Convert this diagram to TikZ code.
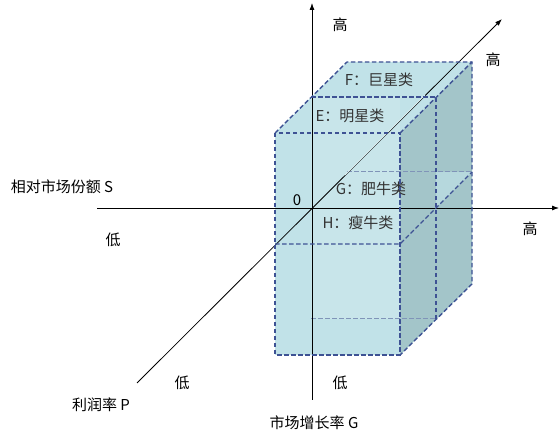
\documentclass[tikz,border=0pt]{standalone}
\usepackage{fontspec}
\setmainfont{Noto Sans CJK SC}
\usetikzlibrary{arrows.meta}
\definecolor{boxfill}{RGB}{193,226,232}
\definecolor{sidefill}{RGB}{163,197,201}
\definecolor{planefill}{RGB}{182,216,221}
\definecolor{edgeblue}{RGB}{62,82,148}
\definecolor{hiddenblue}{RGB}{128,148,184}
\definecolor{innerline}{RGB}{214,232,235}
\tikzset{
  axis/.style={line width=0.8pt, -{Latex[length=7pt,width=5pt]}},
  boxedge/.style={edgeblue, line width=1.4pt, dash pattern=on 4.5pt off 2.5pt},
  hiddenedge/.style={hiddenblue, line width=1pt, dash pattern=on 4.5pt off 2.5pt},
  lbl/.style={font=\fontsize{15}{17}\selectfont, inner sep=0pt},
  boxlbl/.style={lbl, text=black!80},
}
\begin{document}
\begin{tikzpicture}[x=1pt,y=-1pt]
\useasboundingbox (0,0) rectangle (560,435);

% axis end points
\coordinate (O) at (312,208);
\coordinate (Slow) at (97,208);
\coordinate (Shigh) at (559,208);
\coordinate (Glow) at (312,400);
\coordinate (Ghigh) at (312,3);
\coordinate (Plow) at (137,383);
\coordinate (Phigh) at (502,19);

% box faces
\fill[boxfill] (275,133) -- (347,62) -- (472,62) -- (472,284) -- (400,355) -- (275,355) -- cycle;
\fill[white, opacity=0.12] (311,97) rectangle (400,319);
\fill[sidefill] (400,133) -- (472,62) -- (472,284) -- (400,355) -- cycle;
\fill[planefill] (436,172) -- (472,172) -- (436,208) -- cycle;

% hidden edges
\draw[hiddenedge] (311,319) -- (436,319);
\draw[hiddenedge] (347,172) -- (472,172);

% axes
\draw[axis] (Slow) -- (Shigh);
\draw[axis] (Glow) -- (Ghigh);
\draw[axis] (Plow) -- (Phigh);
\draw[innerline, line width=0.8pt] (345,175) -- (425,95);

% visible edges
\draw[boxedge] (275,133) rectangle (400,355);
\draw[boxedge] (275,244) -- (400,244) -- (472,172);
\draw[boxedge] (275,133) -- (347,62) -- (472,62) -- (472,284) -- (400,355);
\draw[boxedge] (400,133) -- (472,62);
\draw[boxedge] (311,97) -- (436,97) -- (436,319);

% axis labels
\node[lbl] (Ghighlbl) at (340,25) {高};
\node[lbl] (Phighlbl) at (493,60) {高};
\node[lbl] (Shighlbl) at (530,229) {高};
\node[lbl] (Sname) at (62,187) {相对市场份额 S};
\node[lbl] (Slowlbl) at (113,240) {低};
\node[lbl] (Olbl) at (297,200) {0};
\node[lbl] (Plowlbl) at (182,383) {低};
\node[lbl] (Glowlbl) at (340,383) {低};
\node[lbl] (Pname) at (101,405) {利润率 P};
\node[lbl] (Gname) at (314,423) {市场增长率 G};

% quadrant labels
\node[boxlbl] (Fzone) at (379,80) {F：巨星类};
\node[boxlbl] (Ezone) at (350,116) {E：明星类};
\node[boxlbl] (Gzone) at (371,189) {G：肥牛类};
\node[boxlbl] (Hzone) at (358,223) {H：瘦牛类};

\end{tikzpicture}
\end{document}
